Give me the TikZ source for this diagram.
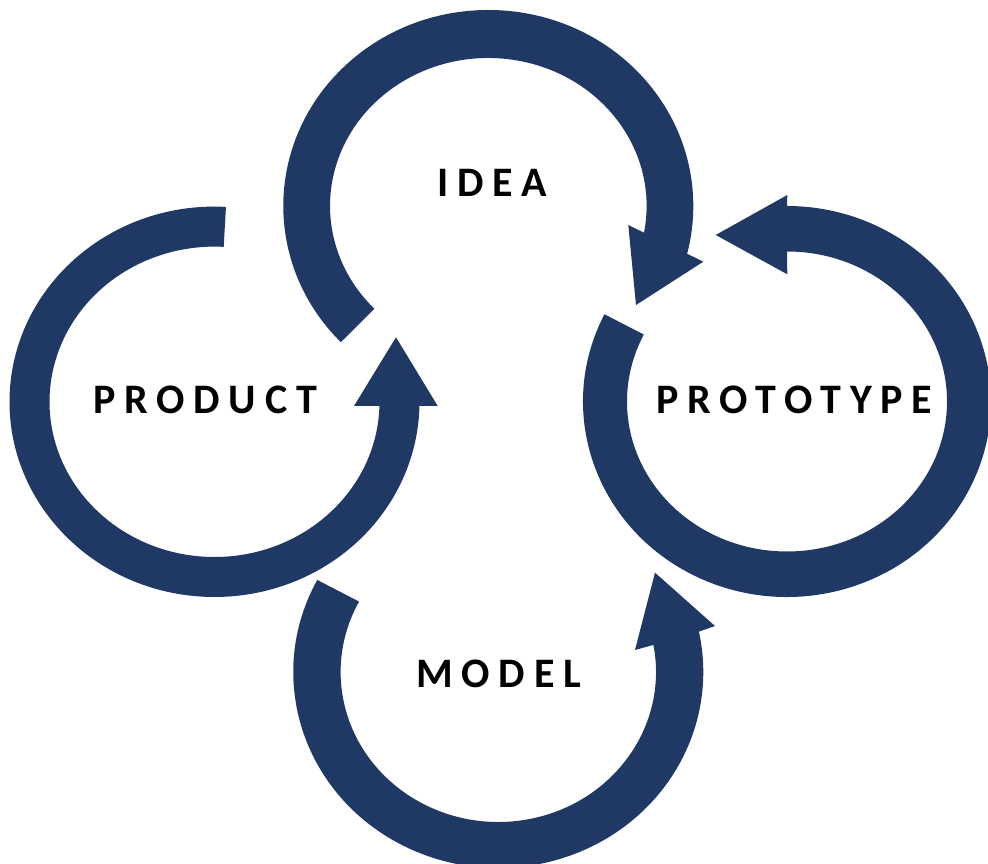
\documentclass[tikz,border=0pt]{standalone}
\usepackage{fontspec}
\newfontfamily\labfont{Carlito}[LetterSpace=21]
\usetikzlibrary{calc}
\definecolor{navy}{HTML}{203864}
\tikzset{
  arr/.style={fill=navy, draw=none},
  lab/.style={anchor=base west, inner sep=0pt, text=black,
    font=\labfont\bfseries\fontsize{42}{50}\selectfont}
}
\begin{document}
\begin{tikzpicture}[x=1pt,y=1pt]
\useasboundingbox (0,0) rectangle (988,864);
\fill[white] (0,0) rectangle (988,864);
% centres
\coordinate (cI) at (488.3,658);
\coordinate (cPd) at (214.5,462.2);
\coordinate (cPt) at (787,462.5);
\coordinate (cM) at (498.3,192);
% head points
\coordinate (iho) at (703.3,602.3);
\coordinate (itip) at (636,559);
\coordinate (ihi) at (628.3,639);
\coordinate (dho) at (437.7,458);
\coordinate (dtip) at (396,526.7);
\coordinate (dhi) at (354,458);
\coordinate (tho) at (787.3,669);
\coordinate (ttip) at (715.7,629);
\coordinate (thi) at (787.3,589.7);
\coordinate (mho) at (715,238);
\coordinate (mtip) at (655,291.3);
\coordinate (mhi) at (635,214);
% IDEA arrow
\fill[arr] ($(cI)+({205*cos(224)},{196*sin(224)})$)
  arc[start angle=224, end angle=-14.1, x radius=205pt, y radius=196pt]
  -- (iho) -- (itip) -- (ihi)
  -- ($(cI)+({158.3*cos(-10.4)},{148*sin(-10.4)})$)
  arc[start angle=-10.4, end angle=224, x radius=158.3pt, y radius=148pt] -- cycle;
% PRODUCT arrow
\fill[arr] ($(cPd)+({205*cos(86.8)},{195.2*sin(86.8)})$)
  arc[start angle=86.8, end angle=358.8, x radius=205pt, y radius=195.2pt]
  -- (dho) -- (dtip) -- (dhi)
  -- ($(cPd)+({165*cos(358.45)},{155.2*sin(358.45)})$)
  arc[start angle=358.45, end angle=86.8, x radius=165pt, y radius=155.2pt] -- cycle;
% PROTOTYPE arrow
\fill[arr] ($(cPt)+({204*cos(153.5)},{195.5*sin(153.5)})$)
  arc[start angle=153.5, end angle=450, x radius=204pt, y radius=195.5pt]
  -- (tho) -- (ttip) -- (thi)
  -- ($(cPt)+(0,150)$)
  arc[start angle=450, end angle=153.5, x radius=160pt, y radius=150pt] -- cycle;
% MODEL arrow
\fill[arr] ($(cM)+({205*cos(152)},{196*sin(152)})$)
  arc[start angle=152, end angle=371.9, x radius=205pt, y radius=196pt]
  -- (mho) -- (mtip) -- (mhi)
  -- ($(cM)+({157.7*cos(370.4)},{150*sin(370.4)})$)
  arc[start angle=370.4, end angle=152, x radius=157.7pt, y radius=150pt] -- cycle;
% labels
\node[lab] (idea) at (437,667) {IDEA};
\node[lab] (product) at (93,450) {PRODUCT};
\node[lab] (prototype) at (656,450) {PROTOTYPE};
\node[lab] (model) at (416,176) {MODEL};
\end{tikzpicture}
\end{document}
